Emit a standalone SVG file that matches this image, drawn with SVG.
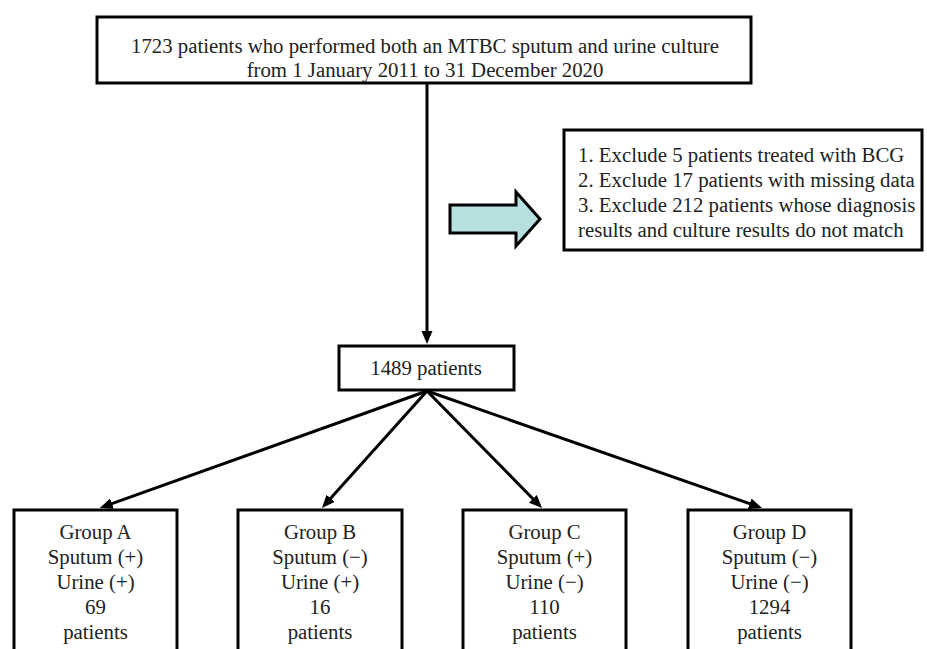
<svg xmlns="http://www.w3.org/2000/svg" width="927" height="649" viewBox="0 0 927 649">
<defs>
<style>
.box{fill:#fff;stroke:#000;stroke-width:3}
.t{font-family:"Liberation Serif","Times New Roman",serif;font-size:20.8px;fill:#222}
.c{text-anchor:middle}
.ln{stroke:#000;stroke-width:3;fill:none}
</style>
<marker id="ah" markerUnits="userSpaceOnUse" markerWidth="14" markerHeight="12" refX="9" refY="5.5" orient="auto">
<path d="M0,0 L13,5.5 L0,11 Z" fill="#000"/>
</marker>
</defs>
<rect width="927" height="649" fill="#fff"/>
<g id="connectors">
<line class="ln" x1="427" y1="83" x2="427" y2="340" marker-end="url(#ah)"/>
<line class="ln" x1="427" y1="391" x2="103.5" y2="506.7" marker-end="url(#ah)"/>
<line class="ln" x1="427" y1="391" x2="324.6" y2="505" marker-end="url(#ah)"/>
<line class="ln" x1="427" y1="391" x2="539.2" y2="505.2" marker-end="url(#ah)"/>
<line class="ln" x1="427" y1="391" x2="758.2" y2="506.7" marker-end="url(#ah)"/>
</g>
<g id="top">
<rect class="box" x="97" y="17" width="654" height="66"/>
<text class="t c" x="425" y="53">1723 patients who performed both an MTBC sputum and urine culture</text>
<text class="t c" x="425" y="77">from 1 January 2011 to 31 December 2020</text>
</g>
<g id="block-arrow">
<path d="M450,205 L516,205 L516,192 L540,219 L516,246 L516,233 L450,233 Z" fill="#b6dfe0" stroke="#000" stroke-width="3" stroke-linejoin="miter"/>
</g>
<g id="exclusion">
<rect class="box" x="564" y="130" width="358" height="120"/>
<text class="t" x="578" y="162">1. Exclude 5 patients treated with BCG</text>
<text class="t" x="578" y="187">2. Exclude 17 patients with missing data</text>
<text class="t" x="578" y="212">3. Exclude 212 patients whose diagnosis</text>
<text class="t" x="578" y="237">results and culture results do not match</text>
</g>
<g id="n1489">
<rect class="box" x="339" y="346" width="175" height="44"/>
<text class="t c" x="426" y="375">1489 patients</text>
</g>
<g id="groupA">
<rect class="box" x="14" y="510" width="163" height="160"/>
<text class="t c" x="95.5" y="539">Group A</text>
<text class="t c" x="95.5" y="564">Sputum (+)</text>
<text class="t c" x="95.5" y="589">Urine (+)</text>
<text class="t c" x="95.5" y="614">69</text>
<text class="t c" x="95.5" y="639">patients</text>
</g>
<g id="groupB">
<rect class="box" x="238" y="510" width="164" height="160"/>
<text class="t c" x="320" y="539">Group B</text>
<text class="t c" x="320" y="564">Sputum (−)</text>
<text class="t c" x="320" y="589">Urine (+)</text>
<text class="t c" x="320" y="614">16</text>
<text class="t c" x="320" y="639">patients</text>
</g>
<g id="groupC">
<rect class="box" x="463" y="510" width="163" height="160"/>
<text class="t c" x="544.5" y="539">Group C</text>
<text class="t c" x="544.5" y="564">Sputum (+)</text>
<text class="t c" x="544.5" y="589">Urine (−)</text>
<text class="t c" x="544.5" y="614">110</text>
<text class="t c" x="544.5" y="639">patients</text>
</g>
<g id="groupD">
<rect class="box" x="688" y="510" width="163" height="160"/>
<text class="t c" x="769.5" y="539">Group D</text>
<text class="t c" x="769.5" y="564">Sputum (−)</text>
<text class="t c" x="769.5" y="589">Urine (−)</text>
<text class="t c" x="769.5" y="614">1294</text>
<text class="t c" x="769.5" y="639">patients</text>
</g>
</svg>
